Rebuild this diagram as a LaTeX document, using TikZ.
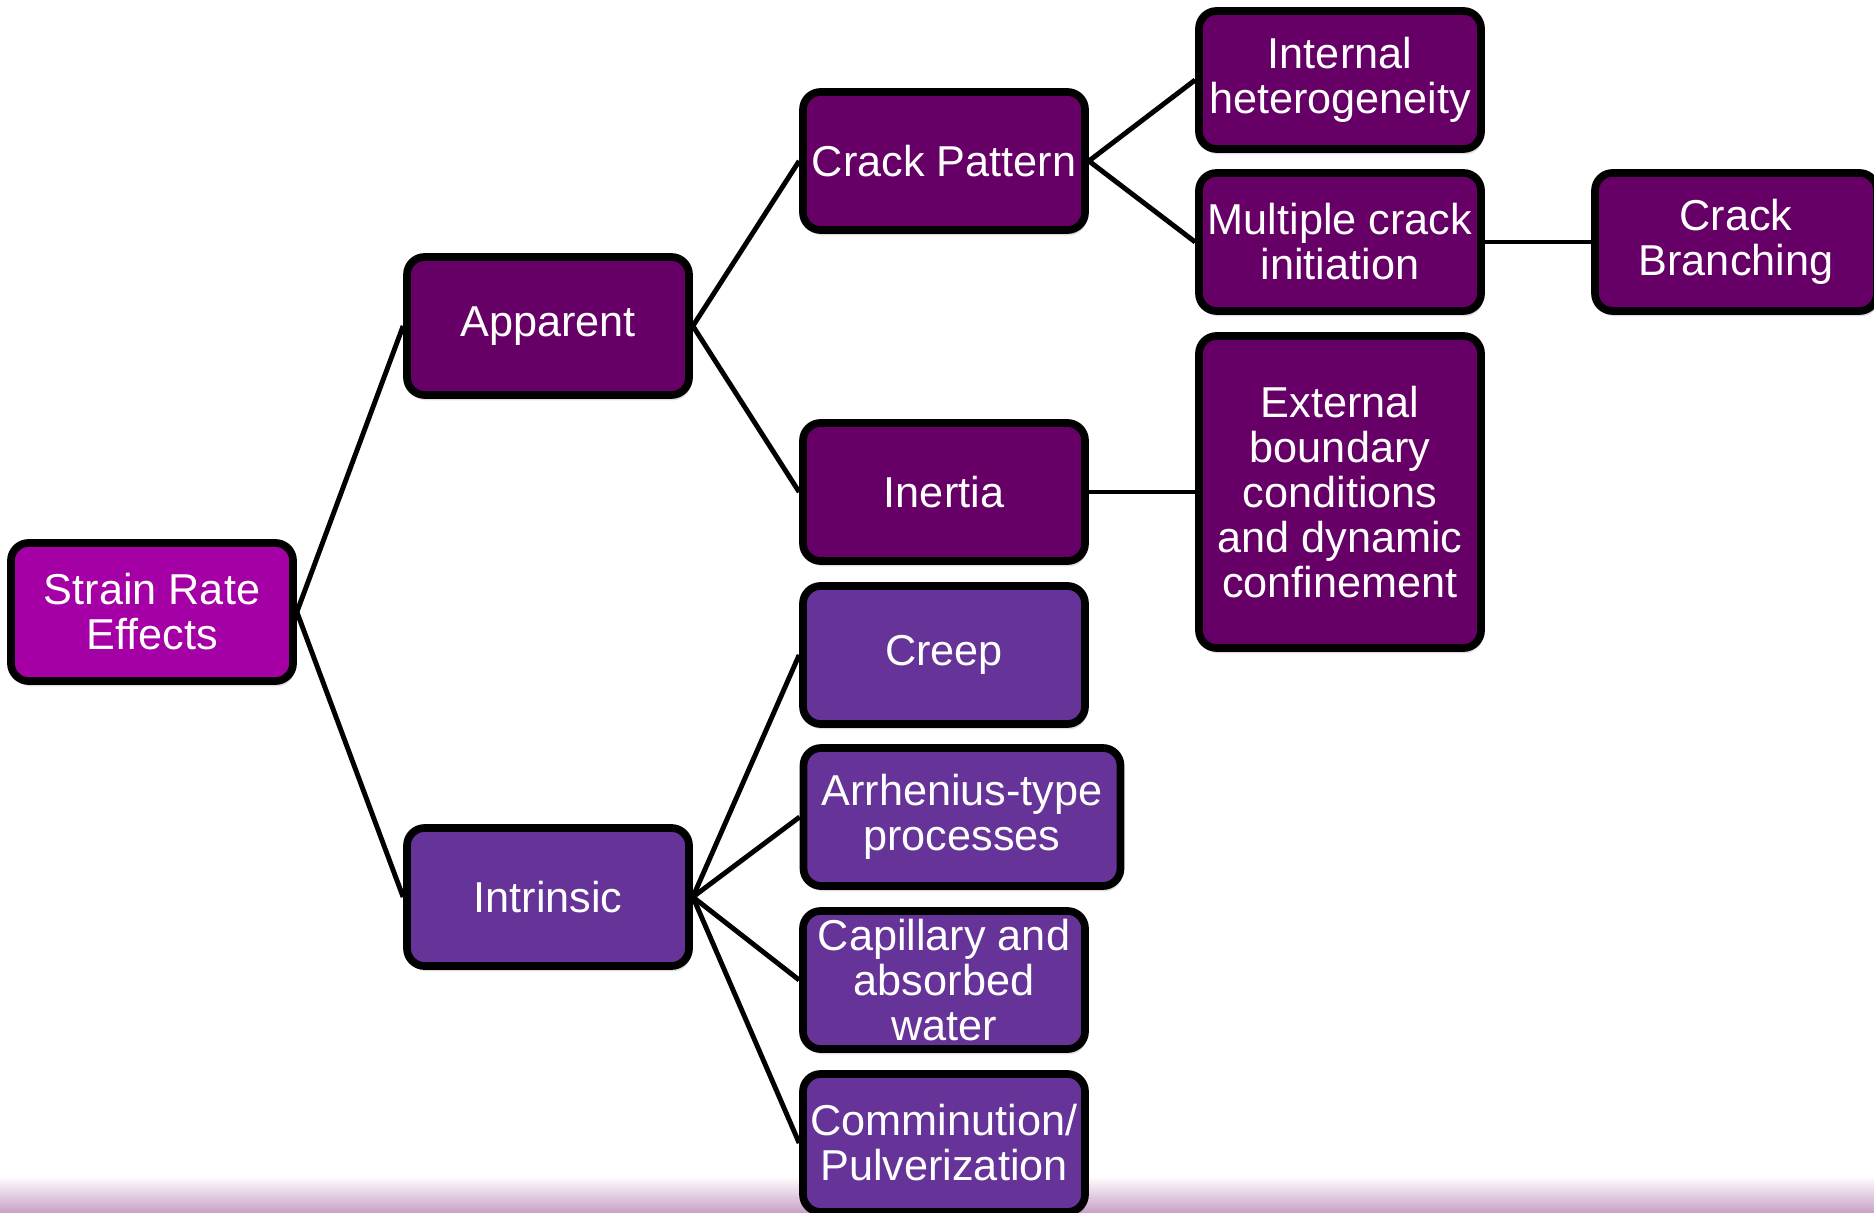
\documentclass[tikz,border=0pt]{standalone}
\usepackage{fontspec}
\setmainfont{Liberation Sans}
\usetikzlibrary{shadows}
\definecolor{rootmag}{HTML}{A500A5}
\definecolor{apppurp}{HTML}{660066}
\definecolor{intpurp}{HTML}{663399}
\definecolor{footpink}{HTML}{C9A2C9}

\begin{document}
\begin{tikzpicture}[
    box/.style={
      draw=black,
      line width=2.2pt,
      rounded corners=5pt,
      text=white,
      align=center,
      minimum width=2.82cm,
      minimum height=1.38cm,
      inner sep=1pt,
      font=\fontsize{12.3}{12.8}\selectfont,
      drop shadow={opacity=0.25, shadow xshift=0.5pt, shadow yshift=-1.5pt}
    },
    rootbox/.style={box, fill=rootmag},
    appbox/.style={box, fill=apppurp},
    intbox/.style={box, fill=intpurp},
    link/.style={line width=1.4pt, draw=black}
  ]
  \useasboundingbox (0,0) rectangle (18.74,12.12);
  \shade[top color=white, bottom color=footpink] (0,0) rectangle (18.74,0.36);

  % root
  \node[rootbox] (SRE) at (1.52,6.00) {Strain Rate\\Effects};

  % second level
  \node[appbox] (App) at (5.48,8.86) {Apparent};
  \node[intbox] (Int) at (5.48,3.15) {Intrinsic};

  % apparent branch
  \node[appbox] (Crk) at (9.44,10.51) {Crack Pattern};
  \node[appbox] (Ine) at (9.44,7.20) {Inertia};
  \node[appbox] (Het) at (13.40,11.32) {Internal\\heterogeneity};
  \node[appbox] (Mul) at (13.40,9.70) {Multiple crack\\initiation};
  \node[appbox, minimum height=3.12cm] (Ext) at (13.40,7.20) {External\\boundary\\conditions\\and dynamic\\confinement};
  \node[appbox] (Bra) at (17.36,9.70) {Crack\\Branching};

  % intrinsic branch
  \node[intbox] (Cre) at (9.44,5.57) {Creep};
  \node[intbox, minimum width=3.17cm] (Arr) at (9.62,3.95) {Arrhenius-type\\processes};
  \node[intbox] (Cap) at (9.44,2.32) {Capillary and\\absorbed\\water};
  \node[intbox] (Com) at (9.44,0.69) {Comminution/\\Pulverization};

  % links
  \draw[link] (SRE.east) -- (App.west);
  \draw[link] (SRE.east) -- (Int.west);
  \draw[link] (App.east) -- (Crk.west);
  \draw[link] (App.east) -- (Ine.west);
  \draw[link] (Crk.east) -- (Het.west);
  \draw[link] (Crk.east) -- (Mul.west);
  \draw[link] (Mul.east) -- (Bra.west);
  \draw[link] (Ine.east) -- (Ext.west);
  \foreach \t in {Cre,Arr,Cap,Com}
    \draw[link] (Int.east) -- (\t.west);
\end{tikzpicture}
\end{document}
